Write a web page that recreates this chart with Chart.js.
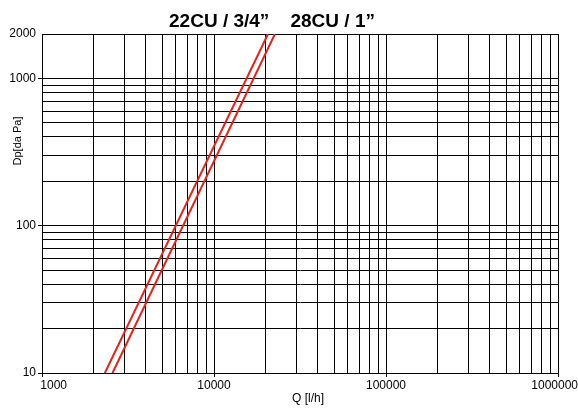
<!DOCTYPE html>
<html>
<head>
<meta charset="utf-8">
<script src="https://cdn.jsdelivr.net/npm/chart.js@4/dist/chart.umd.min.js"></script>
<style>
  html, body { margin: 0; padding: 0; background: #fff; }
  #wrap { width: 578px; height: 408px; }
</style>
</head>
<body>
<div id="wrap"><canvas id="chart"></canvas></div>
<script>
// data (log-log straight lines)
const series22Label = "22CU / 3/4”";
const series28Label = "28CU / 1”";
const flow22 = [2320, 20600];
const flow28 = [2570, 22600];
const dropValues = [10, 2000];

const titleText = "22CU / 3/4”    28CU / 1”";
const xTitle = "Q [l/h]";
const yTitle = "Dp[da Pa]";

const xGridValues = [1000, 2000, 3000, 4000, 5000, 6000, 7000, 8000, 9000,
  10000, 20000, 30000, 40000, 50000, 60000, 70000, 80000, 90000,
  100000, 200000, 300000, 400000, 500000, 600000, 700000, 800000, 900000, 1000000];
const xTickLabels = [1000, 10000, 100000, 1000000];
const yGridValues = [10, 20, 30, 40, 50, 60, 70, 80, 90,
  100, 200, 300, 400, 500, 600, 700, 800, 900, 1000, 2000];
const yTickLabels = [10, 100, 1000, 2000];

const fontFamily = "'Liberation Sans', Arial, sans-serif";
const red = "#e3231e";

const textPlugin = {
  id: "texts",
  afterDraw(chart) {
    const c = chart.ctx;
    c.save();
    c.fillStyle = "#000";
    c.textAlign = "center";
    c.textBaseline = "alphabetic";
    c.font = "bold 19px " + fontFamily;
    c.fillText(titleText, 272, 27);
    c.font = "12px " + fontFamily;
    c.fillText(xTitle, 308, 402);
    c.translate(20.5, 141);
    c.rotate(-Math.PI / 2);
    c.font = "11px " + fontFamily;
    c.fillText(yTitle, 0, 0);
    c.restore();
  }
};

function xLabel(v) {
  if (!xTickLabels.includes(v)) return "";
  if (v === 1000) return "       1000";
  if (v === 1000000) return "1000000  ";
  return String(v);
}

new Chart(document.getElementById("chart"), {
  type: "line",
  data: {
    datasets: [
      {
        label: series22Label,
        data: flow22.map((q, i) => ({ x: q, y: dropValues[i] })),
        borderColor: red,
        borderWidth: 2,
        pointRadius: 0,
        fill: false
      },
      {
        label: series28Label,
        data: flow28.map((q, i) => ({ x: q, y: dropValues[i] })),
        borderColor: red,
        borderWidth: 2,
        pointRadius: 0,
        fill: false
      }
    ]
  },
  options: {
    animation: false,
    responsive: true,
    maintainAspectRatio: false,
    layout: { padding: { top: 34, right: 20, left: 0, bottom: 0 } },
    plugins: {
      legend: { display: false },
      title: { display: false },
      tooltip: { enabled: false }
    },
    scales: {
      x: {
        type: "logarithmic",
        min: 1000,
        max: 1000000,
        afterBuildTicks: s => { s.ticks = xGridValues.map(v => ({ value: v })); },
        afterFit: s => { s.height = 35; s.paddingLeft = 0; s.paddingRight = 0; },
        ticks: {
          autoSkip: false,
          maxRotation: 0,
          padding: 1,
          color: "#000",
          font: { size: 12, family: fontFamily },
          callback: v => xLabel(v)
        },
        grid: {
          color: "#000",
          lineWidth: 1,
          tickLength: 4,
          tickColor: ctx => xTickLabels.includes(ctx.tick.value) ? "#000" : "rgba(0,0,0,0)"
        },
        border: { color: "#000", width: 1 }
      },
      y: {
        type: "logarithmic",
        min: 10,
        max: 2000,
        afterBuildTicks: s => { s.ticks = yGridValues.map(v => ({ value: v })); },
        afterFit: s => { s.width = 42; s.paddingTop = 0; s.paddingBottom = 0; },
        ticks: {
          autoSkip: false,
          padding: 2,
          color: "#000",
          font: { size: 12, family: fontFamily },
          callback: v => yTickLabels.includes(v) ? String(v) : ""
        },
        grid: {
          color: "#000",
          lineWidth: 1,
          tickLength: 4,
          tickColor: ctx => (yTickLabels.includes(ctx.tick.value) && ctx.tick.value !== 2000) ? "#000" : "rgba(0,0,0,0)"
        },
        border: { color: "#000", width: 1 }
      }
    }
  },
  plugins: [textPlugin]
});
</script>
</body>
</html>
